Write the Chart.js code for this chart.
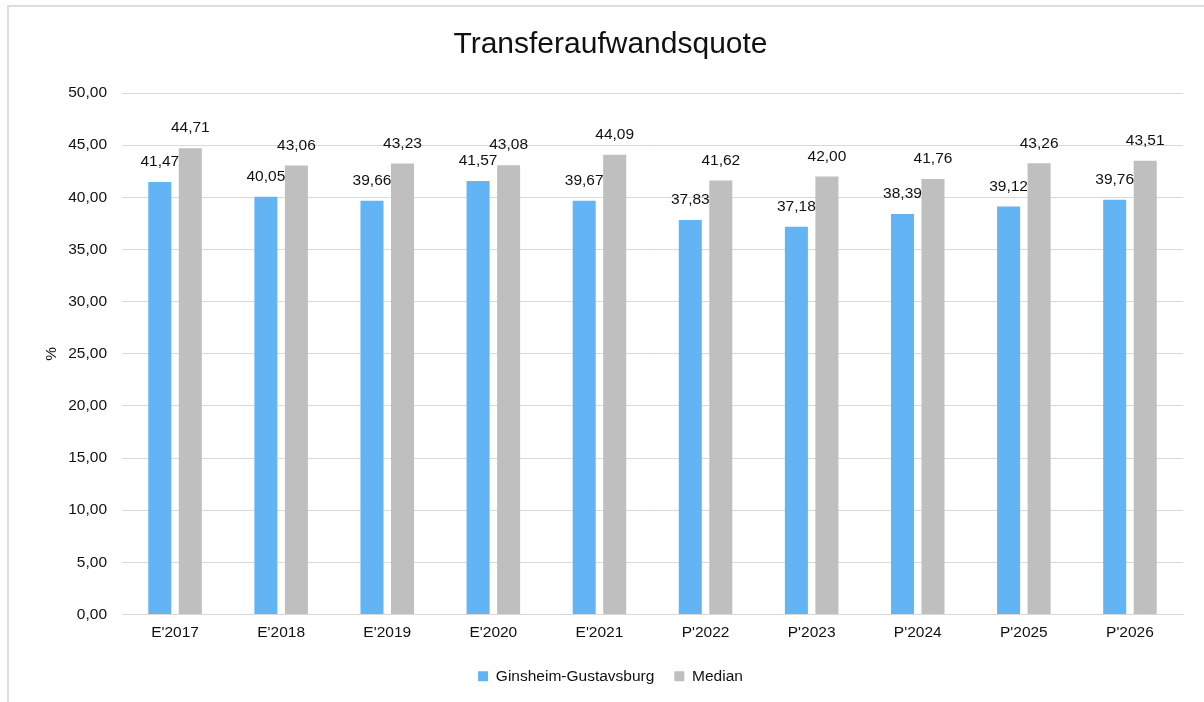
<!DOCTYPE html>
<html>
<head>
<meta charset="utf-8">
<script src="https://cdn.jsdelivr.net/npm/chart.js@4.4.0/dist/chart.umd.min.js"></script>
<style>
  html, body { margin: 0; padding: 0; background: #fff; overflow: hidden; }
  #frame { position: absolute; left: 7px; top: 5px; width: 1400px; height: 900px; border: 2px solid #dedede; }
  #wrap { position: absolute; left: 0; top: 0; width: 1204px; height: 702px; }
</style>
</head>
<body>
<div id="frame"></div>
<div id="wrap"><canvas id="myChart"></canvas></div>
<script>
var categories = ["E'2017", "E'2018", "E'2019", "E'2020", "E'2021", "P'2022", "P'2023", "P'2024", "P'2025", "P'2026"];
var ginsheimValues = [41.47, 40.05, 39.66, 41.57, 39.67, 37.83, 37.18, 38.39, 39.12, 39.76];
var medianValues = [44.71, 43.06, 43.23, 43.08, 44.09, 41.62, 42.00, 41.76, 43.26, 43.51];

var fontFamily = '"Liberation Sans", Arial, sans-serif';
var textColor = '#111111';
var smallSize = 15.5;

function fmt(v) {
    return v.toFixed(2).replace('.', ',');
}

// Werte ueber den Balken zeichnen
var valueLabels = {
    id: 'valueLabels',
    afterDatasetsDraw: function (chart) {
        var ctx = chart.ctx;
        ctx.save();
        ctx.font = smallSize + 'px ' + fontFamily;
        ctx.fillStyle = textColor;
        ctx.textAlign = 'center';
        ctx.textBaseline = 'middle';
        chart.data.datasets.forEach(function (ds, i) {
            chart.getDatasetMeta(i).data.forEach(function (bar, j) {
                ctx.fillText(fmt(ds.data[j]), bar.x, bar.y - 20);
            });
        });
        ctx.restore();
    }
};

var ctx = document.getElementById('myChart').getContext('2d');
var myChart = new Chart(ctx, {
    type: 'bar',
    data: {
        labels: categories,
        datasets: [{
            label: 'Ginsheim-Gustavsburg',
            data: ginsheimValues,
            backgroundColor: '#63b4f5',
            categoryPercentage: 0.575,
            barPercentage: 0.755
        }, {
            label: 'Median',
            data: medianValues,
            backgroundColor: '#bfbfbf',
            categoryPercentage: 0.575,
            barPercentage: 0.755
        }]
    },
    options: {
        responsive: true,
        maintainAspectRatio: false,
        animation: false,
        layout: {
            padding: { left: 38, right: 21, top: 0, bottom: 8 }
        },
        scales: {
            x: {
                grid: { display: false, drawTicks: false },
                border: { color: '#d9d9d9', width: 1 },
                ticks: {
                    color: textColor,
                    font: { family: fontFamily, size: smallSize },
                    padding: 9,
                    maxRotation: 0
                },
                afterFit: function (scale) { scale.height = 34; }
            },
            y: {
                min: 0,
                max: 50,
                grid: { color: '#d9d9d9', lineWidth: 1, drawTicks: false },
                border: { display: false },
                ticks: {
                    stepSize: 5,
                    color: textColor,
                    font: { family: fontFamily, size: smallSize },
                    padding: 15,
                    callback: function (v) { return fmt(v); }
                },
                title: {
                    display: true,
                    text: '%',
                    color: textColor,
                    font: { family: fontFamily, size: smallSize }
                },
                afterFit: function (scale) { scale.width = 84; }
            }
        },
        plugins: {
            title: {
                display: true,
                text: 'Transferaufwandsquote',
                color: textColor,
                font: { family: fontFamily, size: 30, weight: 'normal' },
                padding: { top: 27, bottom: 30 }
            },
            legend: {
                position: 'bottom',
                labels: {
                    boxWidth: 10,
                    boxHeight: 10,
                    color: textColor,
                    font: { family: fontFamily, size: smallSize },
                    padding: 20
                }
            },
            tooltip: { enabled: false }
        }
    },
    plugins: [valueLabels]
});
</script>
</body>
</html>
